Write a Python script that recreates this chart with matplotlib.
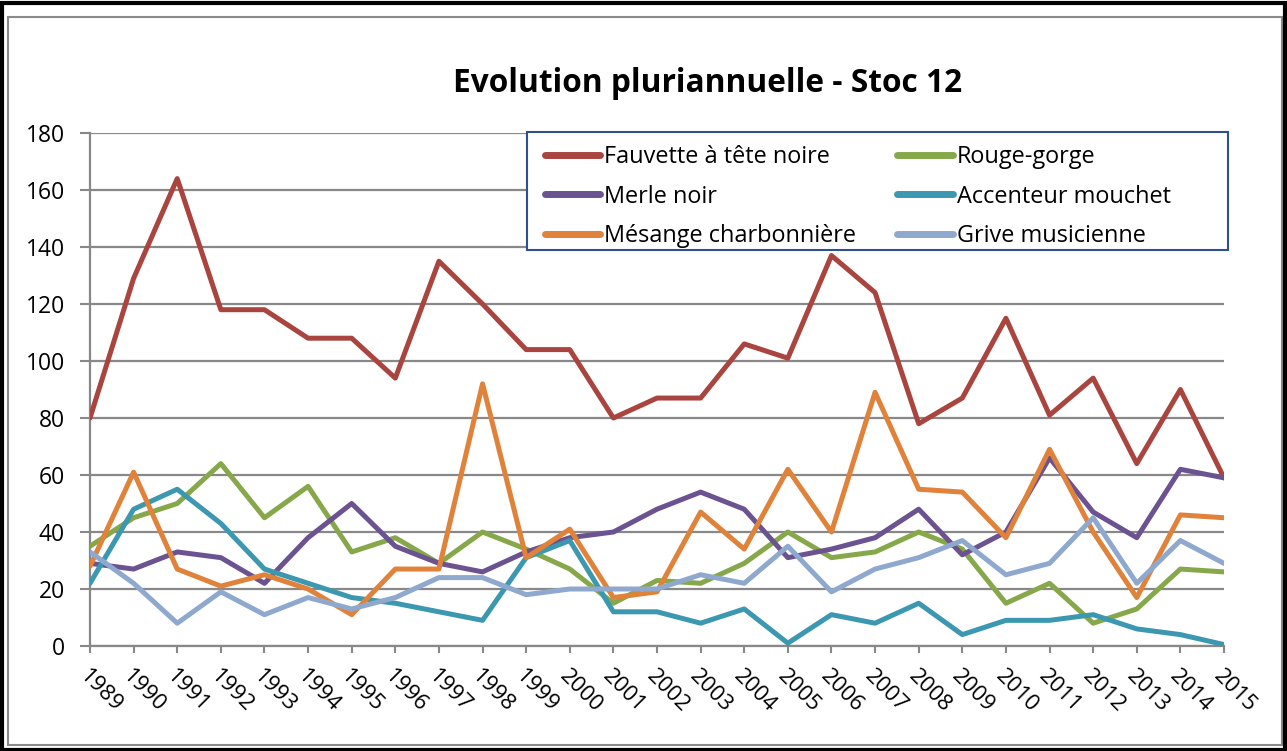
import matplotlib
matplotlib.use("Agg")
import matplotlib.pyplot as plt
from matplotlib.patches import Rectangle

years = list(range(1989, 2016))
fauvette = [80, 129, 164, 118, 118, 108, 108, 94, 135, 120, 104, 104, 80, 87, 87, 106, 101, 137, 124, 78, 87, 115, 81, 94, 64, 90, 59]
rouge_gorge = [35, 45, 50, 64, 45, 56, 33, 38, 29, 40, 34, 27, 15, 23, 22, 29, 40, 31, 33, 40, 34, 15, 22, 8, 13, 27, 26]
merle = [29, 27, 33, 31, 22, 38, 50, 35, 29, 26, 33, 38, 40, 48, 54, 48, 31, 34, 38, 48, 32, 40, 66, 47, 38, 62, 59]
accenteur = [22, 48, 55, 43, 27, 22, 17, 15, 12, 9, 31, 37, 12, 12, 8, 13, 1, 11, 8, 15, 4, 9, 9, 11, 6, 4, 0.5]
mesange = [28, 61, 27, 21, 25, 20, 11, 27, 27, 92, 31, 41, 17, 19, 47, 34, 62, 40, 89, 55, 54, 38, 69, 40, 17, 46, 45]
grive = [33, 22, 8, 19, 11, 17, 13, 17, 24, 24, 18, 20, 20, 20, 25, 22, 35, 19, 27, 31, 37, 25, 29, 45, 22, 37, 29]

names = ["Fauvette à tête noire", "Rouge-gorge", "Merle noir",
         "Accenteur mouchet", "Mésange charbonnière", "Grive musicienne"]
colors = ["#A9443F", "#87A84A", "#6B5290", "#3B98B0", "#E0823A", "#8FA8CE"]
series = [fauvette, rouge_gorge, merle, accenteur, mesange, grive]
title = "Evolution pluriannuelle - Stoc 12"
yticks = list(range(0, 181, 20))

plt.rcParams['font.family'] = ['Open Sans', 'DejaVu Sans']

W, H = 1287, 751
fig = plt.figure(figsize=(W/100, H/100), dpi=100)
ax = fig.add_axes([90/W, 1-646/H, (1224-90)/W, (646-133)/H])

lines = {}
for name, col, vals in zip(names, colors, series):
    ln, = ax.plot(years, vals, color=col, lw=3.6, solid_joinstyle='round',
                  solid_capstyle='round', label=name, zorder=3)
    lines[name] = ln

ax.set_xlim(1989, 2015)
ax.set_ylim(0, 180)
ax.set_yticks(yticks)
ax.set_xticks(years)
ax.set_xticklabels([str(y) for y in years], rotation=-45, ha='left', va='top',
                   rotation_mode='anchor', fontsize=16)
ax.tick_params(axis='y', labelsize=16.5, length=7, width=1.5, color='#888888', pad=11)
ax.tick_params(axis='x', length=5, width=1.5, color='#888888', pad=9)
ax.grid(axis='y', color='#888888', lw=1.6)
ax.set_axisbelow(True)
for s in ['top', 'right']:
    ax.spines[s].set_visible(False)
for s in ['left', 'bottom']:
    ax.spines[s].set_color('#888888')
    ax.spines[s].set_linewidth(1.6)

# legend frame drawn as a box in figure pixels
fig.patches.append(Rectangle((527/W, 1-250/H), (1228-527)/W, (250-132)/H,
                             transform=fig.transFigure, facecolor='white',
                             edgecolor='#2F4F8F', lw=1.5, zorder=5))

order = ["Fauvette à tête noire", "Merle noir", "Mésange charbonnière",
         "Rouge-gorge", "Accenteur mouchet", "Grive musicienne"]
leg = fig.legend([lines[n] for n in order], order, ncol=2, loc='upper left',
                 bbox_to_anchor=(532/W, 1-132/H),
                 fontsize=16.9, frameon=False,
                 handlelength=2.35, handletextpad=0.18, labelspacing=0.67,
                 borderpad=0.55, columnspacing=1.75, borderaxespad=0)
leg.set_zorder(6)
for h in leg.get_lines():
    h.set_linewidth(5)

fig.text(708/W, 1-83/H, title, ha='center', va='center', fontsize=22.8,
         fontweight='bold')

fig.patches.append(Rectangle((8/W, 1-745/H), (1282-8)/W, (745-17)/H,
                             transform=fig.transFigure, fill=False,
                             edgecolor='#8a8a8a', lw=1.5))
fig.patches.append(Rectangle((2/W, 1-750/H), (1285-2)/W, (750-3)/H,
                             transform=fig.transFigure, fill=False,
                             edgecolor='black', lw=3))

fig.savefig("out.png", dpi=100)
